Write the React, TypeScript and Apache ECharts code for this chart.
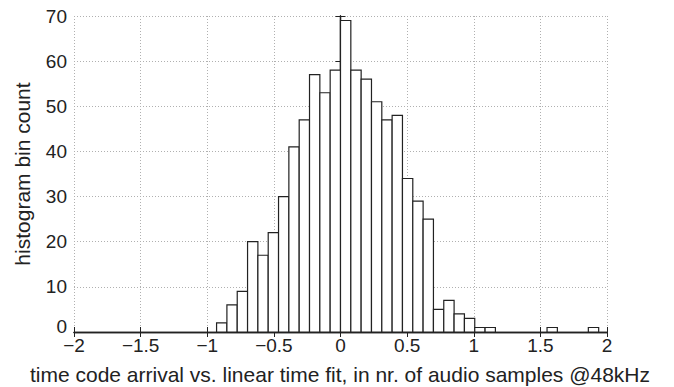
import React, { useEffect, useRef } from "react";
import * as echarts from "echarts";

// Histogram bins: first bin left edge and bin width (in audio samples)
const binStart = -0.93;
const binWidth = 0.0775;
// Counts per bin starting at binStart
const counts = [
  2, 6, 9, 20, 17, 22, 30, 41, 47, 57, 53, 58,
  69, 58, 56, 51, 47, 48, 34, 29, 25, 5, 7, 4, 3, 1, 1,
  0, 0, 0, 0, 0, 1, 0, 0, 0, 1,
];
const xTicks = [-2, -1.5, -1, -0.5, 0, 0.5, 1, 1.5, 2];
const yTicks = [0, 10, 20, 30, 40, 50, 60, 70];
const xTitle = "time code arrival vs. linear time fit, in nr. of audio samples @48kHz";
const yTitle = "histogram bin count";

const FONT = "'Liberation Sans', Arial, Helvetica, sans-serif";
const INK = "#222";

const fmt = (v: number) => (v < 0 ? "\u2212" + String(Math.abs(v)) : String(v));

export default function App() {
  const ref = useRef<HTMLDivElement>(null);
  useEffect(() => {
    if (!ref.current) return;
    const chart = echarts.init(ref.current, undefined, { renderer: "svg" });
    const data = counts
      .map((c, i) => [binStart + i * binWidth, binStart + (i + 1) * binWidth, c])
      .filter((d) => d[2] > 0);
    const xInterval = xTicks[1] - xTicks[0];
    const yInterval = yTicks[1] - yTicks[0];
    const common = {
      axisLine: { show: true, lineStyle: { color: INK, width: 1.3 } },
      axisTick: { show: true, inside: true, length: 5, lineStyle: { color: INK, width: 1 } },
    };
    const split = { show: true, lineStyle: { color: "#b0b0b0", type: [1, 2] as any, width: 1 } };
    chart.setOption({
      animation: false,
      grid: { left: 74, right: 67, top: 16, bottom: 55, containLabel: false },
      xAxis: [
        {
          type: "value",
          position: "bottom",
          min: xTicks[0],
          max: xTicks[xTicks.length - 1],
          interval: xInterval,
          ...common,
          axisLabel: { fontSize: 19, fontFamily: FONT, color: INK, margin: 4, formatter: fmt },
          splitLine: split,
        },
        {
          type: "value",
          position: "top",
          min: xTicks[0],
          max: xTicks[xTicks.length - 1],
          interval: xInterval,
          ...common,
          axisLabel: { show: false },
          splitLine: { show: false },
        },
      ],
      yAxis: [
        {
          type: "value",
          position: "left",
          min: yTicks[0],
          max: yTicks[yTicks.length - 1],
          interval: yInterval,
          ...common,
          axisLabel: {
            fontSize: 19,
            fontFamily: FONT,
            color: INK,
            margin: 7,
            formatter: (v: number) => (v === 0 ? "{z|0}" : fmt(v)),
            rich: { z: { fontSize: 19, fontFamily: FONT, color: INK, padding: [0, 0, 12, 0] } },
          },
          splitLine: split,
        },
        {
          type: "value",
          position: "right",
          min: yTicks[0],
          max: yTicks[yTicks.length - 1],
          interval: yInterval,
          ...common,
          axisLabel: { show: false },
          splitLine: { show: false },
        },
      ],
      series: [
        {
          type: "custom",
          xAxisIndex: 0,
          yAxisIndex: 0,
          data,
          encode: { x: [0, 1], y: 2 },
          renderItem: (params: any, api: any) => {
            const p0 = api.coord([api.value(0), api.value(2)]);
            const p1 = api.coord([api.value(1), 0]);
            return {
              type: "rect",
              shape: { x: p0[0], y: p0[1], width: p1[0] - p0[0], height: p1[1] - p0[1] },
              style: { fill: "#fff", stroke: INK, lineWidth: 1.2 },
            };
          },
        },
      ],
      graphic: [
        {
          type: "text",
          x: 340,
          y: 374,
          style: {
            text: xTitle,
            font: `21px ${FONT}`,
            fill: INK,
            textAlign: "center",
            textVerticalAlign: "middle",
          },
        },
        {
          type: "text",
          x: 22,
          y: 174,
          rotation: Math.PI / 2,
          style: {
            text: yTitle,
            font: `21px ${FONT}`,
            fill: INK,
            textAlign: "center",
            textVerticalAlign: "middle",
          },
        },
      ],
    });
    return () => chart.dispose();
  }, []);
  return <div ref={ref} style={{ width: 674, height: 387, position: "absolute", left: 0, top: 0 }} />;
}
